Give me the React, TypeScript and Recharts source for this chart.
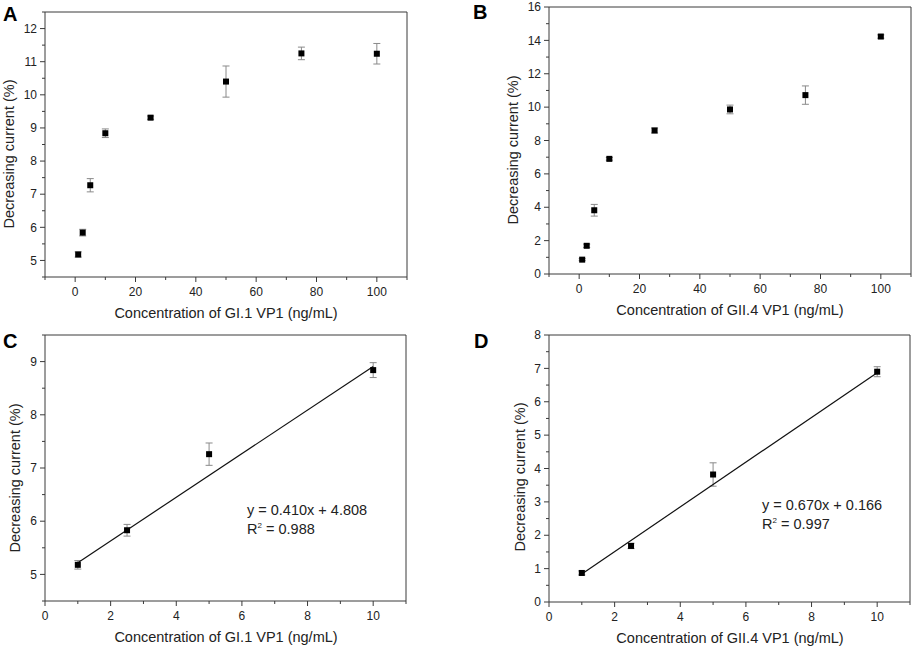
import React from 'react'
import { ScatterChart, Scatter, XAxis, YAxis, ErrorBar, ReferenceLine } from 'recharts'

// full concentration range (panels A, B)
const concWide = [1, 2.5, 5, 10, 25, 50, 75, 100]
const currentGI1 = [5.18, 5.84, 7.27, 8.84, 9.31, 10.4, 11.25, 11.24]
const errGI1 = [0.08, 0.1, 0.2, 0.13, 0.05, 0.47, 0.19, 0.31]
const currentGII4 = [0.86, 1.69, 3.82, 6.9, 8.6, 9.86, 10.72, 14.23]
const errGII4 = [0.06, 0.1, 0.35, 0.08, 0.15, 0.26, 0.55, 0.1]

// linear range (panels C, D)
const concLow = [1, 2.5, 5, 10]
const currentGI1Low = [5.18, 5.83, 7.26, 8.84]
const errGI1Low = [0.08, 0.11, 0.21, 0.14]
const currentGII4Low = [0.87, 1.68, 3.82, 6.9]
const errGII4Low = [0.06, 0.08, 0.35, 0.15]

// fitted lines, endpoints
const fitGI1 = [{ x: 1, y: 5.22 }, { x: 10, y: 8.91 }]
const fitGII4 = [{ x: 1, y: 0.84 }, { x: 10, y: 6.87 }]

const ticksWideX = [-10, 0, 10, 20, 30, 40, 50, 60, 70, 80, 90, 100, 110]
const ticksLowX = [0, 1, 2, 3, 4, 5, 6, 7, 8, 9, 10, 11]
const ticksAY = [4.5, 5, 5.5, 6, 6.5, 7, 7.5, 8, 8.5, 9, 9.5, 10, 10.5, 11, 11.5, 12, 12.5]
const ticksBY = [0, 1, 2, 3, 4, 5, 6, 7, 8, 9, 10, 11, 12, 13, 14, 15, 16]
const ticksCY = [4.5, 5, 5.5, 6, 6.5, 7, 7.5, 8, 8.5, 9, 9.5]
const ticksDY = [0, 0.5, 1, 1.5, 2, 2.5, 3, 3.5, 4, 4.5, 5, 5.5, 6, 6.5, 7, 7.5, 8]

const FONT = '"Liberation Sans", Arial, sans-serif'
const AXIS = '#3a3a3a'
const TEXT = '#222'

const toPoints = (xs: number[], ys: number[], errs: number[]) =>
  xs.map((x, i) => ({ x, y: ys[i], err: errs[i] }))

const Square = (props: any) => (
  <rect x={props.cx - 3} y={props.cy - 3} width={6} height={6} fill="#000" />
)

const BottomTick = ({ x, y, payload, major }: any) => {
  const isMajor = major(payload.value)
  return (
    <g>
      <line x1={x} x2={x} y1={y} y2={y + (isMajor ? 5 : 3)} stroke={AXIS} />
      {isMajor && (
        <text x={x} y={y + 15} dy="0.35em" textAnchor="middle" fontSize={12} fontFamily={FONT} fill={TEXT}>
          {payload.value}
        </text>
      )}
    </g>
  )
}

const LeftTick = ({ x, y, payload, major }: any) => {
  const isMajor = major(payload.value)
  return (
    <g>
      <line x1={x} x2={x - (isMajor ? 5 : 3)} y1={y} y2={y} stroke={AXIS} />
      {isMajor && (
        <text x={x - 8} y={y} dy="0.35em" textAnchor="end" fontSize={12} fontFamily={FONT} fill={TEXT}>
          {payload.value}
        </text>
      )}
    </g>
  )
}

interface PanelProps {
  left: number
  top: number
  width: number
  height: number
  margin: { top: number; right: number; bottom: number; left: number }
  yWidth: number
  xHeight: number
  xDomain: number[]
  xTicks: number[]
  xMajor: (v: number) => boolean
  yDomain: number[]
  yTicks: number[]
  yMajor: (v: number) => boolean
  points: { x: number; y: number; err: number }[]
  fit?: { x: number; y: number }[]
}

function Panel(p: PanelProps) {
  return (
    <div style={{ position: 'absolute', left: p.left, top: p.top }}>
      <ScatterChart width={p.width} height={p.height} margin={p.margin}>
        <XAxis
          type="number"
          dataKey="x"
          domain={p.xDomain}
          ticks={p.xTicks}
          interval={0}
          height={p.xHeight}
          tickSize={0}
          tickMargin={0}
          tickLine={false}
          axisLine={{ stroke: AXIS }}
          tick={(t: any) => <BottomTick {...t} major={p.xMajor} />}
        />
        <YAxis
          type="number"
          dataKey="y"
          domain={p.yDomain}
          ticks={p.yTicks}
          interval={0}
          width={p.yWidth}
          tickSize={0}
          tickMargin={0}
          tickLine={false}
          axisLine={{ stroke: AXIS }}
          tick={(t: any) => <LeftTick {...t} major={p.yMajor} />}
        />
        {/* top and right edges of the frame */}
        <ReferenceLine y={p.yDomain[1]} stroke={AXIS} strokeWidth={1} />
        <ReferenceLine x={p.xDomain[1]} stroke={AXIS} strokeWidth={1} />
        {p.fit && (
          <Scatter
            data={p.fit}
            line={{ stroke: '#111', strokeWidth: 1.2 }}
            shape={() => <g />}
            isAnimationActive={false}
          />
        )}
        <Scatter data={p.points} shape={Square} isAnimationActive={false}>
          <ErrorBar dataKey="err" direction="y" width={3.5} stroke="#8a8a8a" strokeWidth={1} isAnimationActive={false} />
        </Scatter>
      </ScatterChart>
    </div>
  )
}

const txt: React.CSSProperties = {
  position: 'absolute',
  fontFamily: FONT,
  color: TEXT,
  whiteSpace: 'nowrap',
  lineHeight: 1,
}

const Letter = ({ x, y, c }: { x: number; y: number; c: string }) => (
  <div style={{ ...txt, left: x, top: y, fontSize: 20, fontWeight: 'bold', color: '#000' }}>{c}</div>
)

const XTitle = ({ cx, cy, t }: { cx: number; cy: number; t: string }) => (
  <div style={{ ...txt, left: cx, top: cy, fontSize: 14.5, transform: 'translate(-50%, -50%)' }}>{t}</div>
)

const YTitle = ({ cx, cy, t }: { cx: number; cy: number; t: string }) => (
  <div style={{ ...txt, left: cx, top: cy, fontSize: 14.5, transform: 'translate(-50%, -50%) rotate(-90deg)' }}>{t}</div>
)

const Equation = ({ x, y, eq, r2 }: { x: number; y: number; eq: string; r2: string }) => (
  <div style={{ ...txt, left: x, top: y, fontSize: 14.5 }}>
    <div style={{ height: 19 }}>{eq}</div>
    <div>
      R<span style={{ fontSize: 8, verticalAlign: 6 }}>2</span> = {r2}
    </div>
  </div>
)

const wideMajor = (v: number) => v >= 0 && v <= 100 && v % 20 === 0
const lowMajor = (v: number) => v <= 10 && v % 2 === 0
const intMajor = (v: number) => Number.isInteger(v)

export default function App() {
  return (
    <div style={{ position: 'absolute', left: 0, top: 0, width: 913, height: 647, background: '#fff', overflow: 'hidden' }}>
      <Panel
        left={0} top={0} width={456} height={320}
        margin={{ top: 12, right: 49, bottom: 0, left: 0 }}
        yWidth={45} xHeight={43}
        xDomain={[-10, 110]} xTicks={ticksWideX} xMajor={wideMajor}
        yDomain={[4.5, 12.5]} yTicks={ticksAY} yMajor={(v) => intMajor(v) && v >= 5 && v <= 12}
        points={toPoints(concWide, currentGI1, errGI1)}
      />
      <Panel
        left={456} top={0} width={457} height={320}
        margin={{ top: 7, right: 2, bottom: 0, left: 0 }}
        yWidth={93} xHeight={46}
        xDomain={[-10, 110]} xTicks={ticksWideX} xMajor={wideMajor}
        yDomain={[0, 16]} yTicks={ticksBY} yMajor={(v) => v % 2 === 0}
        points={toPoints(concWide, currentGII4, errGII4)}
      />
      <Panel
        left={0} top={320} width={456} height={327}
        margin={{ top: 15, right: 50, bottom: 0, left: 0 }}
        yWidth={45} xHeight={46}
        xDomain={[0, 11]} xTicks={ticksLowX} xMajor={lowMajor}
        yDomain={[4.5, 9.5]} yTicks={ticksCY} yMajor={(v) => intMajor(v)}
        points={toPoints(concLow, currentGI1Low, errGI1Low)}
        fit={fitGI1}
      />
      <Panel
        left={456} top={320} width={457} height={327}
        margin={{ top: 15, right: 3, bottom: 0, left: 0 }}
        yWidth={93} xHeight={45}
        xDomain={[0, 11]} xTicks={ticksLowX} xMajor={lowMajor}
        yDomain={[0, 8]} yTicks={ticksDY} yMajor={(v) => intMajor(v)}
        points={toPoints(concLow, currentGII4Low, errGII4Low)}
        fit={fitGII4}
      />

      <Letter x={3} y={4} c="A" />
      <Letter x={473} y={2} c="B" />
      <Letter x={3} y={331} c="C" />
      <Letter x={474} y={331} c="D" />

      <XTitle cx={226} cy={313} t="Concentration of GI.1 VP1 (ng/mL)" />
      <XTitle cx={730} cy={310} t="Concentration of GII.4 VP1 (ng/mL)" />
      <XTitle cx={226} cy={637} t="Concentration of GI.1 VP1 (ng/mL)" />
      <XTitle cx={730} cy={638} t="Concentration of GII.4 VP1 (ng/mL)" />

      <YTitle cx={9} cy={154} t="Decreasing current (%)" />
      <YTitle cx={513} cy={150} t="Decreasing current (%)" />
      <YTitle cx={15} cy={478} t="Decreasing current (%)" />
      <YTitle cx={520} cy={477} t="Decreasing current (%)" />

      <Equation x={247} y={503} eq="y = 0.410x + 4.808" r2="0.988" />
      <Equation x={762} y={498} eq="y = 0.670x + 0.166" r2="0.997" />
    </div>
  )
}
